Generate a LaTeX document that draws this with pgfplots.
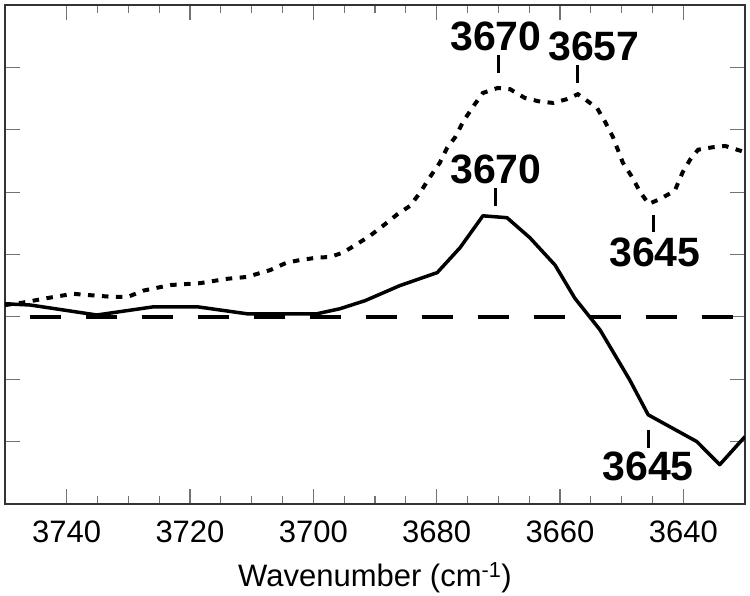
\documentclass[border=0pt]{standalone}
\usepackage{fontspec}
\setmainfont{Liberation Sans}
\usepackage{pgfplots}
\pgfplotsset{compat=1.18}
\begin{document}
\begin{tikzpicture}
\begin{axis}[
  width=740pt, height=499pt, scale only axis,
  x dir=reverse,
  xmin=3630, xmax=3750, ymin=-3, ymax=5,
  xtick={3640,3660,3680,3700,3720,3740},
  minor x tick num=3,
  ytick={-2,-1,0,1,2,3,4},
  yticklabels={},
  tick align=inside,
  major tick length=15pt, minor tick length=8pt,
  every tick/.style={draw=black!55, line width=1.2pt},
  axis line style={draw=black!80, line width=1.6pt},
  /pgf/number format/assume math mode=true,
  /pgf/number format/set thousands separator={},
  tick label style={font=\fontsize{31}{36}\selectfont},
  xticklabel style={anchor=base, yshift=-39pt},
  xlabel={Wavenumber (cm\textsuperscript{-1})},
  xlabel style={font=\fontsize{31}{36}\selectfont, at={(axis description cs:0.5,0)}, anchor=base, yshift=-83pt},
  clip=true,
]
% zero line
\addplot[black, line width=4pt, dash pattern=on 31pt off 25pt, dash phase=31pt] coordinates {(3750,0) (3630,0)};
% dotted spectrum
\addplot[black, line width=4pt, dash pattern=on 6.5pt off 7.5pt] coordinates {
(3750,0.19) (3747.6,0.22) (3743.2,0.30) (3739.0,0.37) (3736.5,0.35) (3732.5,0.32)
(3730.1,0.32) (3727.6,0.42) (3723.2,0.51) (3718.4,0.54) (3714.0,0.61) (3710.8,0.64)
(3707.0,0.75) (3704.3,0.87) (3702.2,0.91) (3699.4,0.95) (3697.3,0.96) (3695.2,1.03)
(3693.2,1.15) (3690.8,1.30) (3688.7,1.46) (3686.3,1.65) (3684.3,1.78) (3682.7,1.99)
(3681.1,2.24) (3679.5,2.47) (3678.3,2.71) (3677.0,2.88) (3675.7,3.13) (3674.1,3.37)
(3672.5,3.59) (3670.1,3.67) (3668.1,3.65) (3665.7,3.51) (3663.2,3.45) (3661.1,3.43)
(3658.9,3.49) (3657.1,3.57) (3654.0,3.35) (3652.7,3.13) (3651.4,2.88) (3649.8,2.47)
(3648.3,2.24) (3647.0,2.00) (3645.6,1.81) (3643.8,1.89) (3641.4,2.02) (3640.1,2.32)
(3638.9,2.52) (3637.6,2.68) (3635.2,2.72) (3633.2,2.74) (3630,2.64)
};
% solid spectrum
\addplot[black, line width=3.5pt, line join=round] coordinates {
(3750,0.21) (3745.9,0.19) (3735.1,0.03) (3726.0,0.16) (3718.7,0.16) (3710.8,0.05)
(3699.4,0.05) (3695.7,0.13) (3691.6,0.26) (3686.0,0.50) (3679.9,0.71) (3676.2,1.11)
(3672.5,1.62) (3668.6,1.59) (3664.9,1.27) (3660.8,0.83) (3657.6,0.30) (3653.5,-0.21)
(3648.7,-1.01) (3645.7,-1.57) (3637.8,-2.00) (3634.1,-2.37) (3630,-1.92)
};
% annotations
\draw[black, line width=3pt] (axis cs:3670,4.20) -- (axis cs:3670,3.91);
\draw[black, line width=3pt] (axis cs:3657.1,4.04) -- (axis cs:3657.1,3.75);
\draw[black, line width=3pt] (axis cs:3670.4,2.07) -- (axis cs:3670.4,1.78);
\draw[black, line width=3pt] (axis cs:3644.9,1.63) -- (axis cs:3644.9,1.36);
\draw[black, line width=3pt] (axis cs:3645.6,-1.81) -- (axis cs:3645.6,-2.10);
\node[font=\fontsize{41}{46}\selectfont\bfseries, inner sep=0pt] at (axis cs:3670.4,4.49) {3670};
\node[font=\fontsize{41}{46}\selectfont\bfseries, inner sep=0pt] at (axis cs:3654.5,4.34) {3657};
\node[font=\fontsize{41}{46}\selectfont\bfseries, inner sep=0pt] at (axis cs:3670.4,2.36) {3670};
\node[font=\fontsize{41}{46}\selectfont\bfseries, inner sep=0pt] at (axis cs:3644.6,1.03) {3645};
\node[font=\fontsize{41}{46}\selectfont\bfseries, inner sep=0pt] at (axis cs:3645.7,-2.40) {3645};
\end{axis}
\pgfresetboundingbox
\path[use as bounding box] ([shift={(-5pt,-92pt)}]current axis.south west) rectangle ([shift={(5pt,5pt)}]current axis.north east);
\end{tikzpicture}
\end{document}
